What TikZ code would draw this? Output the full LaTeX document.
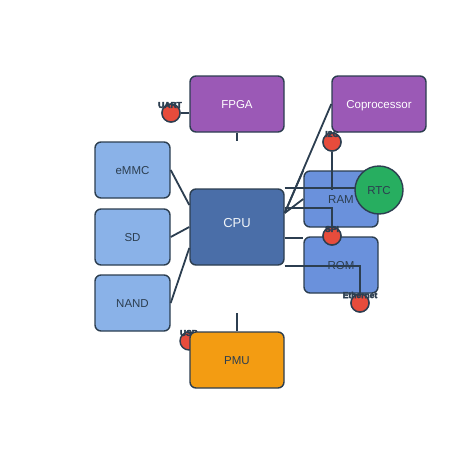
\documentclass[tikz,border=0pt]{standalone}
\usepackage{fontspec}
\setmainfont{Liberation Sans}
\newfontfamily\heavyfont[FakeBold=5]{Liberation Sans Bold}
\usetikzlibrary{positioning}
\definecolor{edgec}{HTML}{2C3E50}
\definecolor{fpgapurple}{HTML}{9B59B6}
\definecolor{storblue}{HTML}{8AB2E8}
\definecolor{cpublue}{HTML}{4A6EA8}
\definecolor{memblue}{HTML}{6A91DC}
\definecolor{rtcgreen}{HTML}{27AE60}
\definecolor{pmuorange}{HTML}{F39C12}
\definecolor{portred}{HTML}{E74C3C}
\tikzset{
  block/.style={draw=edgec, line width=1.4pt, rounded corners=6pt,
    minimum width=94pt, minimum height=56pt, inner sep=2pt,
    text height=9.5pt, text depth=0pt,
    font=\fontsize{11.5}{13}\selectfont, text=edgec},
  port/.style={circle, draw=edgec, line width=1.4pt, fill=portred,
    minimum size=18pt, inner sep=0pt},
  rtcnode/.style={circle, draw=edgec, line width=1.4pt, fill=rtcgreen,
    minimum size=48pt, inner sep=0pt, text height=9pt, text depth=0pt,
    font=\fontsize{11.5}{13}\selectfont, text=edgec},
  portlabel/.style={font=\heavyfont\fontsize{8.5}{9}\selectfont, text=edgec},
  link/.style={draw=edgec, line width=1.8pt},
}
\begin{document}
\begin{tikzpicture}[x=1pt,y=-1pt]
  \useasboundingbox (0,0) rectangle (474,474);
  % usb port sits behind the pmu
  \node[port] (usb) at (189,341) {};
  \node[portlabel] (usblbl) at (189,333) {USB};
  % blocks
  \node[block, fill=fpgapurple, text=white] (fpga) at (237,104) {FPGA};
  \node[block, fill=fpgapurple, text=white] (copro) at (379,104) {Coprocessor};
  \node[block, fill=storblue, minimum width=75pt] (emmc) at (132.5,170) {eMMC};
  \node[block, fill=storblue, minimum width=75pt] (sd) at (132.5,237) {SD};
  \node[block, fill=storblue, minimum width=75pt] (nand) at (132.5,303) {NAND};
  \node[block, fill=cpublue, text=white!92!cpublue, minimum height=76pt,
    font=\fontsize{13}{15}\selectfont] (cpu) at (237,227) {\raisebox{4pt}{CPU}};
  \node[block, fill=memblue, minimum width=74pt] (ram) at (341,199) {RAM};
  \node[block, fill=memblue, minimum width=74pt] (rom) at (341,265) {ROM};
  \node[block, fill=pmuorange] (pmu) at (237,360) {PMU};
  \coordinate (fpgastub) at (237,141);
  \coordinate (pmustub) at (237,313);
  % stubs and storage links
  \draw[link] (fpga.south) -- (fpgastub);
  \draw[link] (pmu.north) -- (pmustub);
  \draw[link] (emmc.east) -- ([yshift=22pt]cpu.west);
  \draw[link] (sd.east) -- (cpu.west);
  \draw[link] (nand.east) -- ([yshift=-21pt]cpu.west);
  % cpu fan-out
  \draw[link] ([yshift=14pt]cpu.east) -- (copro.west);
  \draw[link] ([yshift=14pt]cpu.east) -- (ram.west);
  \draw[link] ([yshift=14pt]cpu.east) -- (ram.north west);
  % ports
  \node[port] (uart) at (171,113) {};
  \node[port] (i2c) at (332,142) {};
  \node[port] (spi) at (332,236) {};
  \node[port] (eth) at (360,303) {};
  \coordinate (rtcc) at (379,190);
  \coordinate (rtcw) at (355,190);
  \draw[link] (uart.east) -- (uart.east -| fpga.west);
  \draw[link] (cpu.north east) -- (cpu.north east -| rtcw);
  \draw[link] (i2c.south) -- (i2c.south |- rtcw);
  \draw[link] ([yshift=19pt]cpu.east) -| (spi.north);
  \draw[link] ([yshift=-11pt]cpu.east) -- ([yshift=-11pt]cpu.east -| rom.west);
  \draw[link] (cpu.south east) -| (eth.north);
  % rtc and ports on top
  \node[rtcnode] (rtc) at (rtcc) {RTC};
  \node[port] at (spi) {};
  \node[port] at (eth) {};
  \node[port] at (i2c) {};
  \node[port] at (uart) {};
  % labels
  \node[portlabel] (uartlbl) at (170,105) {UART};
  \node[portlabel] (i2clbl) at (332,134) {I2C};
  \node[portlabel] (spilbl) at (332,229) {SPI};
  \node[portlabel] (ethlbl) at (360,295) {Ethernet};
\end{tikzpicture}
\end{document}
